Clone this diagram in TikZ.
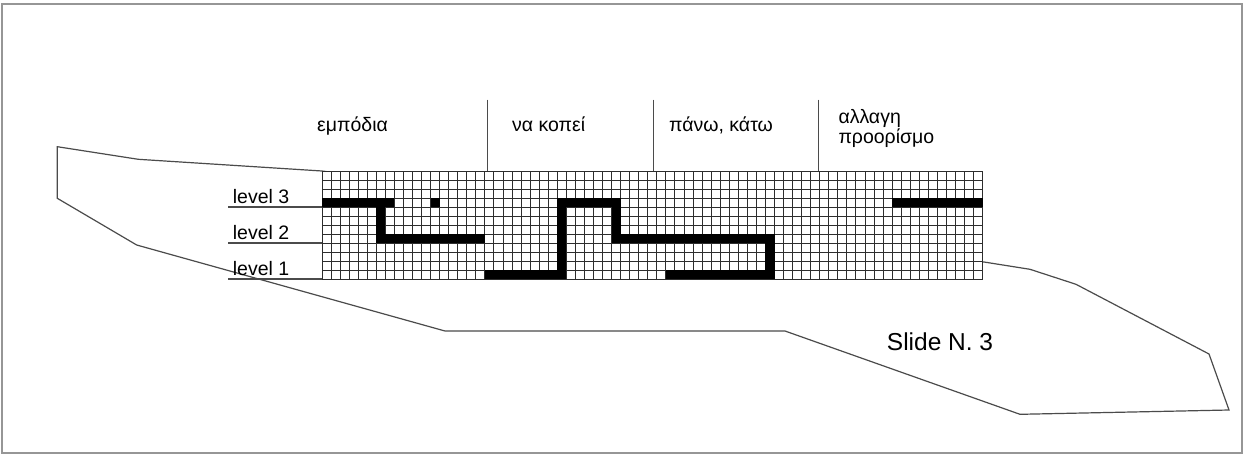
\documentclass[tikz,border=0pt]{standalone}
\usepackage{fontspec}
\setmainfont{Liberation Sans}
\definecolor{framegray}{RGB}{150,150,150}
\definecolor{linegray}{RGB}{75,75,75}
\definecolor{gridgray}{RGB}{45,45,45}
\tikzset{
  frameline/.style={draw=framegray, line width=2pt},
  outline/.style={draw=linegray, line width=1.2pt, line join=miter},
  gridline/.style={draw=gridgray, line width=0.95pt},
  divider/.style={draw=linegray, line width=1.1pt},
  levelline/.style={draw=linegray, line width=1.1pt},
  lbl/.style={anchor=base west, inner sep=0pt, font=\fontsize{19.5}{22}\selectfont},
  bigl/.style={anchor=base west, inner sep=0pt, font=\fontsize{24.5}{28}\selectfont},
}
\newcommand{\blk}[4]{\fill[black] (#1,#2) rectangle (#3+1,#4+1);}
\begin{document}
\begin{tikzpicture}[x=1pt,y=-1pt]
\useasboundingbox (0,0) rectangle (1244,456);
\fill[white] (0,0) rectangle (1244,456);
\draw[frameline] (2,4) rectangle (1242,453);
% outline polygon
\draw[outline] (57.3,146.7) -- (138.3,159.3) -- (322,171) -- (984,262) -- (1030,269.3) -- (1076,284.3) -- (1209,354) -- (1229,410) -- (1020,414.3) -- (785,331) -- (445,331) -- (136.7,245) -- (57.3,198.3) -- cycle;
% dividers
\draw[divider] (487.3,99.5) -- (487.3,171);
\draw[divider] (653.3,99.5) -- (653.3,171);
\draw[divider] (818.5,99.5) -- (818.5,171);
% level lines
\draw[levelline] (228,207) -- (322,207);
\draw[levelline] (228,243) -- (322,243);
\draw[levelline] (228,279) -- (322,279);
% grid
\begin{scope}[shift={(322pt,-171pt)}, x=9.05pt, y=-9pt]
  \fill[white] (0,0) rectangle (73,12);
  \foreach \c in {0,...,73} { \draw[gridline] (\c,0) -- (\c,12); }
  \foreach \r in {0,...,12} { \draw[gridline] (0,\r) -- (73,\r); }
  \blk{0}{3}{7}{3}
  \blk{6}{3}{6}{7}
  \blk{6}{7}{17}{7}
  \blk{12}{3}{12}{3}
  \blk{18}{11}{26}{11}
  \blk{26}{3}{26}{11}
  \blk{26}{3}{32}{3}
  \blk{32}{3}{32}{7}
  \blk{32}{7}{49}{7}
  \blk{49}{7}{49}{11}
  \blk{38}{11}{49}{11}
  \blk{63}{3}{72}{3}
\end{scope}
% labels
\node[lbl] (t1) at (317,131) {εμπόδια};
\node[lbl] (t2) at (512,131) {να κοπεί};
\node[lbl] (t3) at (669,131) {πάνω, κάτω};
\node[lbl] (t4a) at (838.3,123) {αλλαγη};
\node[lbl] (t4b) at (838.3,143) {προορίσμο};
\node[lbl] (l3) at (232.7,203.3) {level 3};
\node[lbl] (l2) at (232.7,239.5) {level 2};
\node[lbl] (l1) at (232.7,275.5) {level 1};
\node[bigl] (slide) at (886.7,350) {Slide N. 3};
\end{tikzpicture}
\end{document}
